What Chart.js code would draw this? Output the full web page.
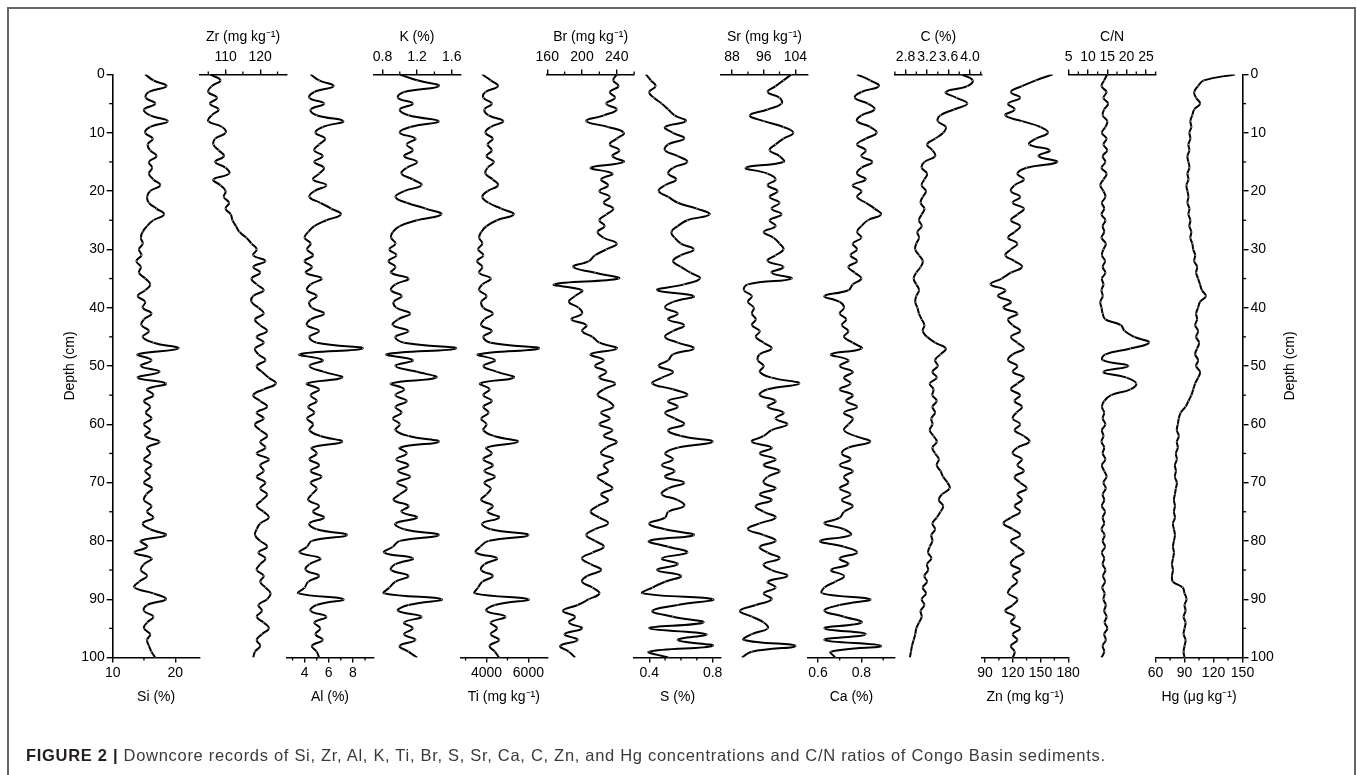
<!DOCTYPE html>
<html><head><meta charset="utf-8">
<script src="https://cdn.jsdelivr.net/npm/chart.js@4.4.1/dist/chart.umd.min.js"></script>
<style>
html,body{margin:0;padding:0;background:#fff;width:1357px;height:775px;overflow:hidden;font-family:Arial,"Liberation Sans",sans-serif}
#frame{position:absolute;left:7px;top:7px;width:1349px;height:820px;border:2px solid #666;box-sizing:border-box}
#wrap{position:absolute;left:0;top:0;width:1357px;height:775px}
#cap{position:absolute;left:26px;top:746px;font-family:Arial,"Liberation Sans",sans-serif;font-size:16.5px;letter-spacing:0.7px;color:#3a3a3a;white-space:nowrap}
#cap b{color:#231f20}
</style></head><body>
<div id="frame"></div>
<div id="wrap"><canvas id="c" width="1357" height="775"></canvas></div>
<div id="cap"><b>FIGURE 2 |</b> Downcore records of Si, Zr, Al, K, Ti, Br, S, Sr, Ca, C, Zn, and Hg concentrations and C/N ratios of Congo Basin sediments.</div>
<script>
// ---- depth (cm) ----
const depth = [0,1,2,3,4,5,6,7,8,9,10,11,12,13,14,15,16,17,18,19,20,21,22,23,24,25,26,27,28,29,30,31,32,33,34,35,36,37,38,39,40,41,42,43,44,45,46,47,48,49,50,51,52,53,54,55,56,57,58,59,60,61,62,63,64,65,66,67,68,69,70,71,72,73,74,75,76,77,78,79,80,81,82,83,84,85,86,87,88,89,90,91,92,93,94,95,96,97,98,99,100];
const depthTicks = [0,10,20,30,40,50,60,70,80,90,100];
const depthMinor = [5,15,25,35,45,55,65,75,85,95];

// ---- series ----
const siPct = [15.2,16.5,18.6,15.8,15.3,16.8,15.0,16.0,18.8,16.0,15.2,16.4,15.6,16.0,17.0,15.8,16.3,15.8,16.5,17.6,16.0,15.5,15.8,17.0,18.2,16.5,15.5,14.8,14.5,14.8,14.2,14.6,13.8,14.5,14.2,15.2,16.0,15.2,14.0,15.2,14.8,16.2,15.0,14.6,15.8,14.8,16.5,20.5,14.0,16.2,14.5,17.5,14.0,18.5,15.5,16.5,15.0,16.0,15.3,16.2,15.0,16.0,15.2,17.5,15.5,16.0,15.0,16.2,15.2,16.0,15.0,16.3,15.4,15.0,16.2,15.5,16.5,14.8,16.0,18.5,14.5,15.5,13.5,16.2,15.0,14.5,15.5,14.2,13.5,16.5,18.5,15.5,15.0,16.5,15.5,15.0,16.0,15.5,15.8,16.2,16.8];
const zrMgKg = [105.5,108.5,106,105,107.5,105.5,108,106,105,109,110,107,106.5,108,109.5,107,110,111,106.5,108.5,110,109.5,111,110,111.5,112,113,114,116,117.5,119,118,121.5,118,120,117.5,119,121,118,117.5,119.5,121,118.5,120,122,119,121,118.5,119.5,121.5,119,120.5,122.5,124.5,121,118,120,122,119,121,118.5,120,122,120,121.5,119,122.5,120,121,119,121.5,120,122,120.5,119,121,122.5,120,119,118.5,120,122,119.5,121.5,120,119,121,120,121.5,123,122,119.5,120.5,119,121,122.5,120.5,119,120,118.5,118];
const alPct = [4.5,5.2,6.4,4.8,4.4,5.6,4.5,5.0,7.2,5.5,4.9,5.7,5.2,4.8,5.5,4.8,5.6,5.2,4.7,5.8,4.8,4.4,5.3,6.2,7.0,5.8,4.8,4.3,4.0,4.5,4.2,4.7,4.0,4.6,4.1,5.4,4.5,4.2,5.0,4.4,4.6,5.6,4.5,4.2,5.2,4.4,5.0,8.8,3.6,5.5,4.4,5.6,7.1,4.2,5.2,4.5,5.0,4.3,4.8,4.2,4.7,4.4,5.3,7.1,4.6,5.0,4.4,5.2,4.5,5.4,4.5,5.0,4.6,4.3,5.2,4.7,5.6,4.4,5.0,7.5,4.6,4.2,3.6,5.3,4.4,4.1,5.2,4.3,4.0,3.5,7.2,5.0,4.5,5.8,4.8,5.3,4.9,5.5,4.6,5.0,5.2];
const kPct = [1.0,1.2,1.45,1.05,0.98,1.15,1.0,1.1,1.45,1.12,1.0,1.18,1.08,1.15,1.05,1.2,1.08,1.02,1.15,1.25,1.05,0.95,1.08,1.3,1.48,1.2,1.0,0.92,0.9,0.95,0.88,0.96,0.87,0.95,0.9,1.1,0.95,0.9,1.02,0.93,0.96,1.12,0.98,0.92,1.1,0.95,1.05,1.65,0.85,1.15,0.95,1.2,1.42,0.9,1.05,0.95,1.08,0.95,1.02,0.92,1.0,0.95,1.1,1.45,1.0,1.08,0.96,1.1,0.98,1.12,0.97,1.08,1.0,0.93,1.1,1.02,1.2,0.95,1.05,1.45,1.0,0.92,0.82,1.15,0.95,0.9,1.1,0.95,0.88,0.82,1.48,1.1,0.98,1.25,1.05,1.15,1.05,1.18,1.0,1.1,1.2];
const tiMgKg = [3800,4200,4550,3950,3850,4250,3900,4100,4800,4200,3950,4300,4050,4250,4000,4350,4050,3950,4300,4550,4050,3800,4100,4700,5300,4500,4000,3750,3650,3800,3600,3850,3550,3800,3650,4200,3800,3650,4000,3750,3850,4300,3900,3750,4250,3850,4200,6500,3600,4400,3850,4500,5300,3700,4150,3850,4250,3850,4100,3750,4000,3850,4350,5500,4000,4250,3850,4300,3900,4400,3900,4200,4000,3750,4300,4050,4600,3800,4200,6000,4100,3700,3500,4500,3900,3750,4300,3800,3600,3450,6000,4400,4000,4900,4200,4500,4200,4600,4150,4400,4600];
const brMgKg = [240,236,242,232,238,228,240,225,205,230,248,240,232,243,235,248,210,235,222,230,220,232,225,236,228,220,226,218,225,240,228,215,208,190,215,242,168,200,192,185,196,200,188,205,200,212,220,240,210,225,215,228,220,238,225,218,230,236,222,232,220,235,225,240,228,222,236,225,230,218,226,235,222,230,218,210,220,230,215,205,215,225,212,200,210,222,206,200,212,220,208,195,178,192,185,200,180,195,175,185,192];
const sPct = [0.38,0.41,0.44,0.40,0.43,0.48,0.52,0.56,0.63,0.50,0.55,0.62,0.52,0.50,0.58,0.64,0.55,0.52,0.57,0.50,0.46,0.52,0.58,0.70,0.78,0.64,0.58,0.54,0.56,0.60,0.68,0.60,0.55,0.60,0.66,0.72,0.62,0.45,0.68,0.55,0.50,0.58,0.52,0.62,0.55,0.50,0.58,0.68,0.55,0.52,0.46,0.55,0.48,0.42,0.55,0.64,0.52,0.58,0.50,0.56,0.62,0.52,0.60,0.80,0.58,0.50,0.55,0.48,0.56,0.50,0.62,0.52,0.48,0.58,0.62,0.52,0.50,0.40,0.50,0.68,0.40,0.52,0.64,0.48,0.58,0.45,0.60,0.50,0.42,0.36,0.80,0.58,0.42,0.55,0.74,0.40,0.76,0.58,0.80,0.40,0.52];
const srMgKg = [103,101,99,97,100,100.5,97,92.5,96,101,103.5,101,99,97.5,100,101,91.5,97,99,97,99.5,97.5,100,98,100.5,97.5,99,96,98.5,100,101,99,97,101,98,103,92,91,93,92,93.5,93,94,93,95,94,96,98,95,94.5,96,95,98,105,97,95,99,97,101,99,102,98,96,93,98,95,99,96,100,97,96,99,95,98,94,96,99,95,92,96,99,95,97,100,96,98,102,97,99,96,98,94,90,93,96,97,93,91,104,93,90.5];
const caPct = [0.78,0.84,0.88,0.80,0.77,0.83,0.86,0.80,0.78,0.84,0.87,0.82,0.78,0.82,0.80,0.85,0.80,0.78,0.82,0.76,0.80,0.78,0.82,0.86,0.89,0.83,0.80,0.78,0.80,0.76,0.78,0.75,0.78,0.74,0.77,0.80,0.76,0.74,0.63,0.70,0.72,0.70,0.73,0.71,0.74,0.72,0.76,0.80,0.66,0.74,0.70,0.76,0.72,0.75,0.70,0.76,0.73,0.78,0.72,0.76,0.74,0.72,0.77,0.84,0.74,0.71,0.75,0.70,0.76,0.72,0.74,0.70,0.75,0.71,0.76,0.72,0.70,0.63,0.72,0.75,0.61,0.72,0.78,0.70,0.74,0.66,0.72,0.68,0.63,0.62,0.84,0.70,0.63,0.72,0.80,0.63,0.82,0.63,0.89,0.66,0.68];
const cPct = [3.85,4.05,3.95,3.55,3.75,3.95,3.7,3.45,3.4,3.55,3.5,3.35,3.2,3.3,3.35,3.15,3.1,3.2,3.15,3.1,3.18,3.12,3.08,3.15,3.1,3.05,3.1,3.02,3.05,3.0,2.98,3.05,3.12,3.08,3.0,2.95,3.0,3.05,3.0,2.98,3.02,3.05,3.1,3.15,3.12,3.2,3.35,3.55,3.45,3.35,3.4,3.3,3.38,3.25,3.32,3.3,3.38,3.3,3.35,3.28,3.3,3.25,3.32,3.38,3.3,3.35,3.42,3.38,3.45,3.5,3.58,3.62,3.48,3.42,3.5,3.45,3.38,3.3,3.35,3.28,3.3,3.25,3.22,3.28,3.2,3.22,3.15,3.2,3.12,3.18,3.1,3.15,3.08,3.1,3.05,3.0,2.98,2.95,2.92,2.9,2.88];
const znMgKg = [163,145,130,118,128,115,122,112,130,150,158,145,138,160,148,168,135,125,132,122,118,128,120,132,125,118,128,122,115,125,118,112,122,130,118,108,96,112,104,118,110,125,115,120,128,118,125,132,120,115,125,120,132,125,118,128,122,130,124,120,128,122,132,138,125,120,130,125,132,122,128,135,125,130,122,128,118,110,120,128,118,125,132,122,118,128,120,125,118,115,125,120,112,122,118,128,120,125,118,122,120];
const cnRatio = [15,14.2,13.5,14.8,14,15.2,14.2,13.8,15,14.5,13.6,14.8,14,15,13.8,14.5,13.5,14.8,14,13.2,14,14.5,13.6,14.2,13.5,14.5,13.8,14.2,13.5,14.6,14,13.6,14.4,13.8,14.5,13.6,14,13.5,13.8,13.2,13.5,13.8,14.5,18.5,19.5,22,25.8,21,14.5,13.8,20.5,14,20,22.5,21,16,14.2,13.6,14.2,13.8,14.5,13.6,14,13.5,14.2,13.8,14.5,13.6,14.2,14.8,14,14.6,13.8,14.2,13.6,14.4,13.8,14.2,13.5,14.3,13.8,14.4,13.6,14.2,13.8,14.5,13.9,14.4,13.7,14.3,14,14.6,14.2,14.8,14.3,15,14.2,14.6,13.8,14.2,13.5];
const hgUgKg = [142,110,104,100,102,106,100,98,96,97,95,96,94,95,93,94,95,93,94,92,93,94,93,95,94,96,95,97,96,98,99,101,100,103,102,104,106,108,112,106,104,102,103,101,104,102,105,103,101,104,102,106,104,101,99,97,94,91,86,84,83,82,84,82,83,81,82,80,81,80,82,81,80,79,80,79,80,78,79,80,79,78,79,78,77,78,77,78,88,90,92,90,91,89,91,90,89,91,90,89,90];

// ---- axis tick values ----
const siTicks=[10,20], siMinor=[15];
const zrTicks=[110,120], zrMinor=[105,115,125];
const alTicks=[4,6,8], alMinor=[3,5,7,9];
const kTicks=[0.8,1.2,1.6], kMinor=[1.0,1.4];
const tiTicks=[4000,6000], tiMinor=[3000,5000];
const brTicks=[160,200,240], brMinor=[180,220,260];
const sTicks=[0.4,0.8], sMinor=[0.5,0.6,0.7];
const srTicks=[88,96,104], srMinor=[92,100];
const caTicks=[0.6,0.8], caMinor=[0.7,0.9];
const cTicks=[2.8,3.2,3.6,4.0], cMinor=[2.6,3.0,3.4,3.8,4.2];
const znTicks=[90,120,150,180], znMinor=[105,135,165];
const cnTicks=[5,10,15,20,25], cnMinor=[7.5,12.5,17.5,22.5,27.5];
const hgTicks=[60,90,120,150], hgMinor=[75,105,135];

const panels = [
 {id:'xSi', title:'Si (%)',        pos:'bottom', min:10,   max:23.9, ticks:siTicks, minor:siMinor, dec:0, data:siPct},
 {id:'xZr', title:'Zr (mg kg⁻¹)',  pos:'top',    min:102.5,max:127.6,ticks:zrTicks, minor:zrMinor, dec:0, data:zrMgKg},
 {id:'xAl', title:'Al (%)',        pos:'bottom', min:2.5,  max:9.7,  ticks:alTicks, minor:alMinor, dec:0, data:alPct},
 {id:'xK',  title:'K (%)',         pos:'top',    min:0.695,max:1.70, ticks:kTicks,  minor:kMinor,  dec:1, data:kPct},
 {id:'xTi', title:'Ti (mg kg⁻¹)',  pos:'bottom', min:2750, max:6900, ticks:tiTicks, minor:tiMinor, dec:0, data:tiMgKg},
 {id:'xBr', title:'Br (mg kg⁻¹)',  pos:'top',    min:160,  max:260,  ticks:brTicks, minor:brMinor, dec:0, data:brMgKg},
 {id:'xS',  title:'S (%)',         pos:'bottom', min:0.305,max:0.853,ticks:sTicks,  minor:sMinor,  dec:1, data:sPct},
 {id:'xSr', title:'Sr (mg kg⁻¹)',  pos:'top',    min:85.2, max:107.2,ticks:srTicks, minor:srMinor, dec:0, data:srMgKg},
 {id:'xCa', title:'Ca (%)',        pos:'bottom', min:0.554,max:0.954,ticks:caTicks, minor:caMinor, dec:1, data:caPct},
 {id:'xC',  title:'C (%)',         pos:'top',    min:2.6,  max:4.22, ticks:cTicks,  minor:cMinor,  dec:1, data:cPct},
 {id:'xZn', title:'Zn (mg kg⁻¹)',  pos:'bottom', min:86.5, max:180.5,ticks:znTicks, minor:znMinor, dec:0, data:znMgKg},
 {id:'xCN', title:'C/N',           pos:'top',    min:5,    max:27.5, ticks:cnTicks, minor:cnMinor, dec:0, data:cnRatio},
 {id:'xHg', title:'Hg (μg kg⁻¹)',  pos:'bottom', min:60,   max:150,  ticks:hgTicks, minor:hgMinor, dec:0, data:hgUgKg}
];

const FONT = "Arial, 'Liberation Sans', sans-serif";
Chart.defaults.font.family = FONT;
Chart.defaults.font.size = 14;
Chart.defaults.color = '#000';

const TOPH = 49.4, BOTH = 52.2, WL = 55.1, WR = 59.9;
const minorMap = {y: depthMinor, yR: depthMinor};

const scales = {};
const fixTicks = arr => s => { s.ticks = arr.map(v => ({value:v})); };
scales.y = {
  type:'linear', position:'left', reverse:true, min:0, max:100,
  afterBuildTicks: fixTicks(depthTicks), afterFit: s => { s.width = WL; },
  grid:{drawOnChartArea:false, drawTicks:true, tickLength:6, color:'#000', lineWidth:1.4},
  border:{display:true, color:'#000', width:1.6},
  ticks:{padding:2, color:'#000', font:{size:14}},
  title:{display:true, text:'Depth (cm)', color:'#000', font:{size:14}, padding:{top:4,bottom:4}}
};
scales.yR = {
  type:'linear', position:'right', reverse:true, min:0, max:100,
  afterBuildTicks: fixTicks(depthTicks), afterFit: s => { s.width = WR; },
  grid:{drawOnChartArea:false, drawTicks:true, tickLength:6, color:'#000', lineWidth:1.4},
  border:{display:true, color:'#000', width:1.6},
  ticks:{padding:2, color:'#000', font:{size:14}},
  title:{display:false, text:'Depth (cm)'}
};

const datasets = [];
panels.forEach((p, slot) => {
  const top = p.pos === 'top';
  scales[p.id] = {
    type:'linear', position:p.pos, stack: top ? 'T' : 'B', stackWeight:1, weight: top ? 100 - slot : slot,
    min:p.min, max:p.max,
    afterBuildTicks: fixTicks(p.ticks),
    afterFit: s => { s.height = top ? TOPH : BOTH; },
    grid:{drawOnChartArea:false, drawTicks:true, tickLength:5, color:'#000', lineWidth:1.4},
    border:{display:true, color:'#000', width:1.6},
    ticks:{autoSkip:false, maxRotation:0, minRotation:0, padding: top ? 4 : 2, color:'#000', font:{size:14},
           callback: v => Number(v).toFixed(p.dec)},
    title:{display:true, text:p.title, color:'#000', font:{size:14}, padding:{top:4,bottom:4}}
  };
  // invisible spacer in the opposite row so the panels alternate top/bottom
  const gid = 'gap' + slot;
  scales[gid] = {type:'linear', display:false, position: top ? 'bottom' : 'top', stack: top ? 'B' : 'T',
                 stackWeight:1, weight: top ? slot : 100 - slot, min:0, max:1,
                 afterFit: s => { s.height = top ? BOTH : TOPH; }};
  minorMap[p.id] = p.minor;
  datasets.push({
    label:p.title, xAxisID:p.id, yAxisID:'y',
    data: depth.map((d, i) => ({x:p.data[i], y:d})),
    borderColor:'#000', borderWidth:2, tension:0.45, fill:false,
    pointRadius:0.7, pointBackgroundColor:'#9a9a9a', pointBorderWidth:0, pointHoverRadius:0
  });
});

const extrasPlugin = {
  id:'extras',
  afterDraw(chart){
    const ctx = chart.ctx; ctx.save(); ctx.strokeStyle = '#000'; ctx.lineWidth = 1.3;
    for (const id in minorMap) {
      const s = chart.scales[id]; if (!s) continue;
      for (const v of minorMap[id]) {
        if (v < Math.min(s.min, s.max) || v > Math.max(s.min, s.max)) continue;
        const p = s.getPixelForValue(v);
        ctx.beginPath();
        if (s.position === 'top') { ctx.moveTo(p, s.bottom); ctx.lineTo(p, s.bottom - 3); }
        else if (s.position === 'bottom') { ctx.moveTo(p, s.top); ctx.lineTo(p, s.top + 3); }
        else if (s.position === 'left') { ctx.moveTo(s.right, p); ctx.lineTo(s.right - 3.5, p); }
        else { ctx.moveTo(s.left, p); ctx.lineTo(s.left + 3.5, p); }
        ctx.stroke();
      }
    }
    // right-hand depth title, same orientation as the left one
    const r = chart.scales.yR, a = chart.chartArea;
    ctx.translate(r.right - 12.4, (a.top + a.bottom) / 2);
    ctx.rotate(-Math.PI / 2);
    ctx.fillStyle = '#000'; ctx.font = "14px " + FONT; ctx.textAlign = 'center'; ctx.textBaseline = 'middle';
    ctx.fillText('Depth (cm)', 0, 0);
    ctx.restore();
  }
};

new Chart(document.getElementById('c'), {
  type:'line',
  data:{datasets},
  options:{
    indexAxis:'y', responsive:false, animation:false, events:[],
    layout:{autoPadding:false, padding:{left:57.6, right:54.6, top:25.1, bottom:65.3}},
    plugins:{legend:{display:false}, tooltip:{enabled:false}, title:{display:false}},
    scales
  },
  plugins:[extrasPlugin]
});
</script>
</body></html>
